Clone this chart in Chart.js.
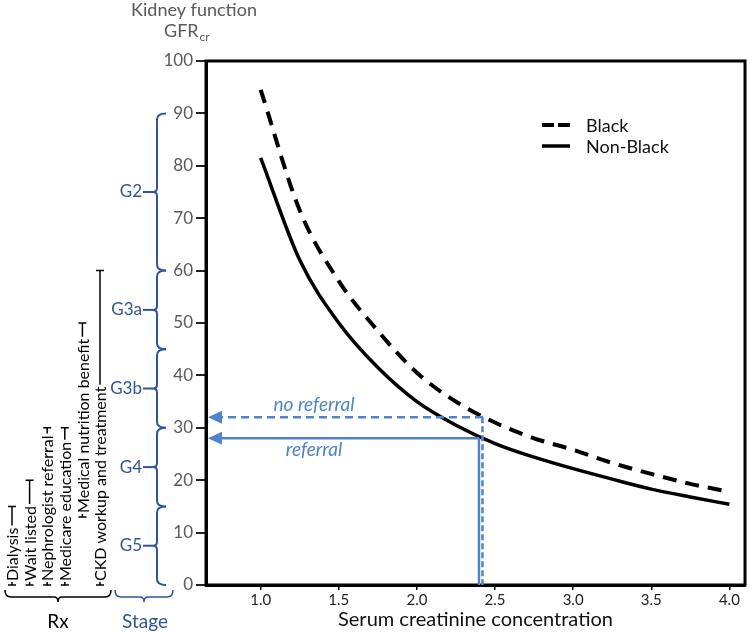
<!DOCTYPE html>
<html>
<head>
<meta charset="utf-8">
<script src="https://cdn.jsdelivr.net/npm/chart.js@4.4.1/dist/chart.umd.min.js"></script>
<style>
  html, body { margin: 0; padding: 0; background: #fff; }
  canvas { display: block; }
</style>
</head>
<body>
<canvas id="gfrChart" width="750" height="634"></canvas>
<script>
// serum creatinine (x) and eGFR
const creatinine = [1.0, 1.25, 1.5, 1.75, 2.0, 2.25, 2.5, 2.75, 3.0, 3.25, 3.5, 3.75, 4.0];
const gfrBlack = [94.5, 71.5, 58, 48.5, 40.5, 35, 31, 28, 25.8, 23.3, 21.2, 19.3, 17.8];
const gfrNonBlack = [81.5, 62, 50, 41.5, 35, 30.5, 27, 24.4, 22.2, 20.2, 18.3, 16.8, 15.4];

const xTicks = [1.0, 1.5, 2.0, 2.5, 3.0, 3.5, 4.0];
const yTicks = [0, 10, 20, 30, 40, 50, 60, 70, 80, 90, 100];

const stageNames = ["G2", "G3a", "G3b", "G4", "G5"];
const stageHigh = [90, 60, 45, 30, 15];
const stageLow = [60, 45, 30, 15, 0];

const rxNames = ["Dialysis", "Wait listed", "Nephrologist referral", "Medicare education",
  "Medical nutrition benefit", "CKD workup and treatment"];
const rxLow = [0, 0, 0, 0, 13, 0];
const rxHigh = [15, 20, 30, 30, 50, 60];

const patientCreatinine = 2.41;
const referralGfr = 28;
const noReferralGfr = 32;

const FONT = "Lato, 'Open Sans', sans-serif";
const STAGE_BLUE = "#2f5597";
const ARROW_BLUE = "#4f84cc";

function aPuntos(xs, ys) {
  return xs.map((x, i) => ({ x, y: ys[i] }));
}

function flecha(ctx, x0, x1, y, dashed) {
  ctx.save();
  ctx.strokeStyle = ARROW_BLUE;
  ctx.fillStyle = ARROW_BLUE;
  ctx.lineWidth = 2.5;
  ctx.setLineDash(dashed ? [8, 5] : []);
  ctx.beginPath();
  ctx.moveTo(x0, y);
  ctx.lineTo(x1 + 10, y);
  ctx.stroke();
  ctx.setLineDash([]);
  ctx.beginPath();
  ctx.moveTo(x1, y);
  ctx.lineTo(x1 + 14, y - 6.5);
  ctx.lineTo(x1 + 14, y + 6.5);
  ctx.closePath();
  ctx.fill();
  ctx.restore();
}

function llaveVertical(ctx, x, yTop, yBot) {
  const mid = (yTop + yBot) / 2;
  ctx.beginPath();
  ctx.moveTo(x + 9, yTop);
  ctx.quadraticCurveTo(x, yTop, x, yTop + 6);
  ctx.lineTo(x, mid - 4);
  ctx.quadraticCurveTo(x, mid, x - 4, mid);
  ctx.quadraticCurveTo(x, mid, x, mid + 4);
  ctx.lineTo(x, yBot - 6);
  ctx.quadraticCurveTo(x, yBot, x + 9, yBot);
  ctx.stroke();
}

function llaveHorizontal(ctx, x0, x1, y) {
  const mid = (x0 + x1) / 2;
  ctx.beginPath();
  ctx.moveTo(x0, y - 7);
  ctx.quadraticCurveTo(x0, y, x0 + 6, y);
  ctx.lineTo(mid - 4, y);
  ctx.quadraticCurveTo(mid, y, mid, y + 5);
  ctx.quadraticCurveTo(mid, y, mid + 4, y);
  ctx.lineTo(x1 - 6, y);
  ctx.quadraticCurveTo(x1, y, x1, y - 7);
  ctx.stroke();
}

const overlay = {
  id: "overlay",
  afterDraw(chart) {
    const { ctx, chartArea: a, scales } = chart;
    const x = scales.x;
    const y = scales.y;

    ctx.save();
    // frame
    ctx.strokeStyle = "#000";
    ctx.lineWidth = 3;
    ctx.strokeRect(a.left, a.top, a.right - a.left, a.bottom - a.top);

    // axis title at top
    ctx.fillStyle = "#595959";
    ctx.textAlign = "center";
    ctx.textBaseline = "middle";
    ctx.font = `18px ${FONT}`;
    ctx.fillText("Kidney function", 194, 10);
    ctx.textAlign = "left";
    ctx.fillText("GFR", 164, 31);
    const wGfr = ctx.measureText("GFR").width;
    ctx.font = `12px ${FONT}`;
    ctx.fillText("cr", 165 + wGfr, 37);

    // legend
    const ds = chart.data.datasets;
    ds.forEach((d, i) => {
      const ly = 125 + i * 21;
      ctx.strokeStyle = d.borderColor;
      ctx.lineWidth = d.borderWidth;
      ctx.setLineDash(d.borderDash ? [12, 4] : []);
      ctx.beginPath();
      ctx.moveTo(542, ly);
      ctx.lineTo(570, ly);
      ctx.stroke();
      ctx.setLineDash([]);
      ctx.fillStyle = "#111";
      ctx.font = `18px ${FONT}`;
      ctx.textAlign = "left";
      ctx.fillText(d.label, 586, ly + 1);
    });

    // referral arrows
    const px = x.getPixelForValue(patientCreatinine);
    const yRef = y.getPixelForValue(referralGfr);
    const yNo = y.getPixelForValue(noReferralGfr);
    flecha(ctx, px + 2, a.left + 2, yNo, true);
    flecha(ctx, px - 2, a.left + 2, yRef, false);
    ctx.strokeStyle = ARROW_BLUE;
    ctx.lineWidth = 2.5;
    ctx.beginPath();
    ctx.moveTo(px - 2, yRef);
    ctx.lineTo(px - 2, a.bottom);
    ctx.stroke();
    ctx.setLineDash([6, 3]);
    ctx.beginPath();
    ctx.moveTo(px + 1.5, yNo);
    ctx.lineTo(px + 1.5, a.bottom);
    ctx.stroke();
    ctx.setLineDash([]);
    ctx.fillStyle = ARROW_BLUE;
    ctx.textAlign = "center";
    ctx.font = `italic 19px ${FONT}`;
    ctx.fillText("no referral", 314, yNo - 12);
    ctx.fillText("referral", 314, yRef + 12);

    // CKD stage braces
    ctx.strokeStyle = STAGE_BLUE;
    ctx.fillStyle = STAGE_BLUE;
    ctx.lineWidth = 2;
    ctx.font = `17px ${FONT}`;
    ctx.textAlign = "right";
    stageNames.forEach((name, i) => {
      const yt = y.getPixelForValue(stageHigh[i]);
      const yb = y.getPixelForValue(stageLow[i]);
      llaveVertical(ctx, 157, yt, yb);
      const mid = (yt + yb) / 2;
      ctx.beginPath();
      ctx.moveTo(143, mid);
      ctx.lineTo(153, mid);
      ctx.stroke();
      ctx.fillText(name, 142, mid);
    });

    // treatment bars (Rx)
    ctx.strokeStyle = "#000";
    ctx.fillStyle = "#000";
    ctx.lineWidth = 1.5;
    ctx.font = `16px ${FONT}`;
    rxNames.forEach((name, i) => {
      const cx = 12 + i * 17.6;
      const yb = y.getPixelForValue(rxLow[i]);
      const yt = y.getPixelForValue(rxHigh[i]);
      const w = ctx.measureText(name).width;
      ctx.beginPath();
      ctx.moveTo(cx - 4, yb);
      ctx.lineTo(cx + 4, yb);
      ctx.moveTo(cx, yb);
      ctx.lineTo(cx, yb - 3);
      ctx.moveTo(cx - 4, yt);
      ctx.lineTo(cx + 4, yt);
      ctx.stroke();
      if (yb - 5 - w > yt) {
        ctx.beginPath();
        ctx.moveTo(cx, yb - 6 - w);
        ctx.lineTo(cx, yt);
        ctx.stroke();
      }
      ctx.save();
      ctx.translate(cx, yb - 4);
      ctx.rotate(-Math.PI / 2);
      ctx.textAlign = "left";
      ctx.textBaseline = "middle";
      ctx.fillText(name, 0, 1);
      ctx.restore();
    });

    // bottom braces
    ctx.lineWidth = 1.5;
    ctx.strokeStyle = "#000";
    llaveHorizontal(ctx, 5, 111, 597);
    ctx.strokeStyle = STAGE_BLUE;
    llaveHorizontal(ctx, 115, 173, 597);
    ctx.font = `19px ${FONT}`;
    ctx.textAlign = "center";
    ctx.fillStyle = "#000";
    ctx.fillText("Rx", 58, 622);
    ctx.fillStyle = STAGE_BLUE;
    ctx.fillText("Stage", 145, 622);
    ctx.restore();
  },
};

new Chart(document.getElementById("gfrChart"), {
  type: "line",
  data: {
    datasets: [
      {
        label: "Black",
        data: aPuntos(creatinine, gfrBlack),
        borderColor: "#000",
        borderWidth: 4,
        borderDash: [14, 9],
        pointRadius: 0,
        cubicInterpolationMode: "monotone",
        fill: false,
      },
      {
        label: "Non-Black",
        data: aPuntos(creatinine, gfrNonBlack),
        borderColor: "#000",
        borderWidth: 3.5,
        pointRadius: 0,
        cubicInterpolationMode: "monotone",
        fill: false,
      },
    ],
  },
  options: {
    responsive: false,
    animation: false,
    devicePixelRatio: 1,
    layout: { padding: { top: 61, right: 5, left: 0, bottom: 0 } },
    plugins: { legend: { display: false }, tooltip: { enabled: false } },
    scales: {
      x: {
        type: "linear",
        min: 0.65,
        max: 4.1,
        afterBuildTicks: (s) => { s.ticks = xTicks.map((v) => ({ value: v })); },
        afterFit: (s) => { s.height = 49; },
        ticks: {
          callback: (v) => Number(v).toFixed(1),
          color: "#222",
          font: { family: FONT, size: 15 },
          padding: 1,
          maxRotation: 0,
        },
        grid: { drawOnChartArea: false, tickLength: 5, color: "#000", lineWidth: 1.5 },
        border: { color: "#000", width: 3 },
        title: {
          display: true,
          text: "Serum creatinine concentration",
          color: "#111",
          font: { family: FONT, size: 20 },
          padding: { top: 0, bottom: 2 },
        },
      },
      y: {
        min: 0,
        max: 100,
        afterBuildTicks: (s) => { s.ticks = yTicks.map((v) => ({ value: v })); },
        afterFit: (s) => { s.width = 206; },
        ticks: {
          color: "#595959",
          font: { family: FONT, size: 17 },
          padding: 3,
        },
        grid: { drawOnChartArea: false, tickLength: 10, color: "#222", lineWidth: 2 },
        border: { color: "#000", width: 3 },
      },
    },
  },
  plugins: [overlay],
});
</script>
</body>
</html>
